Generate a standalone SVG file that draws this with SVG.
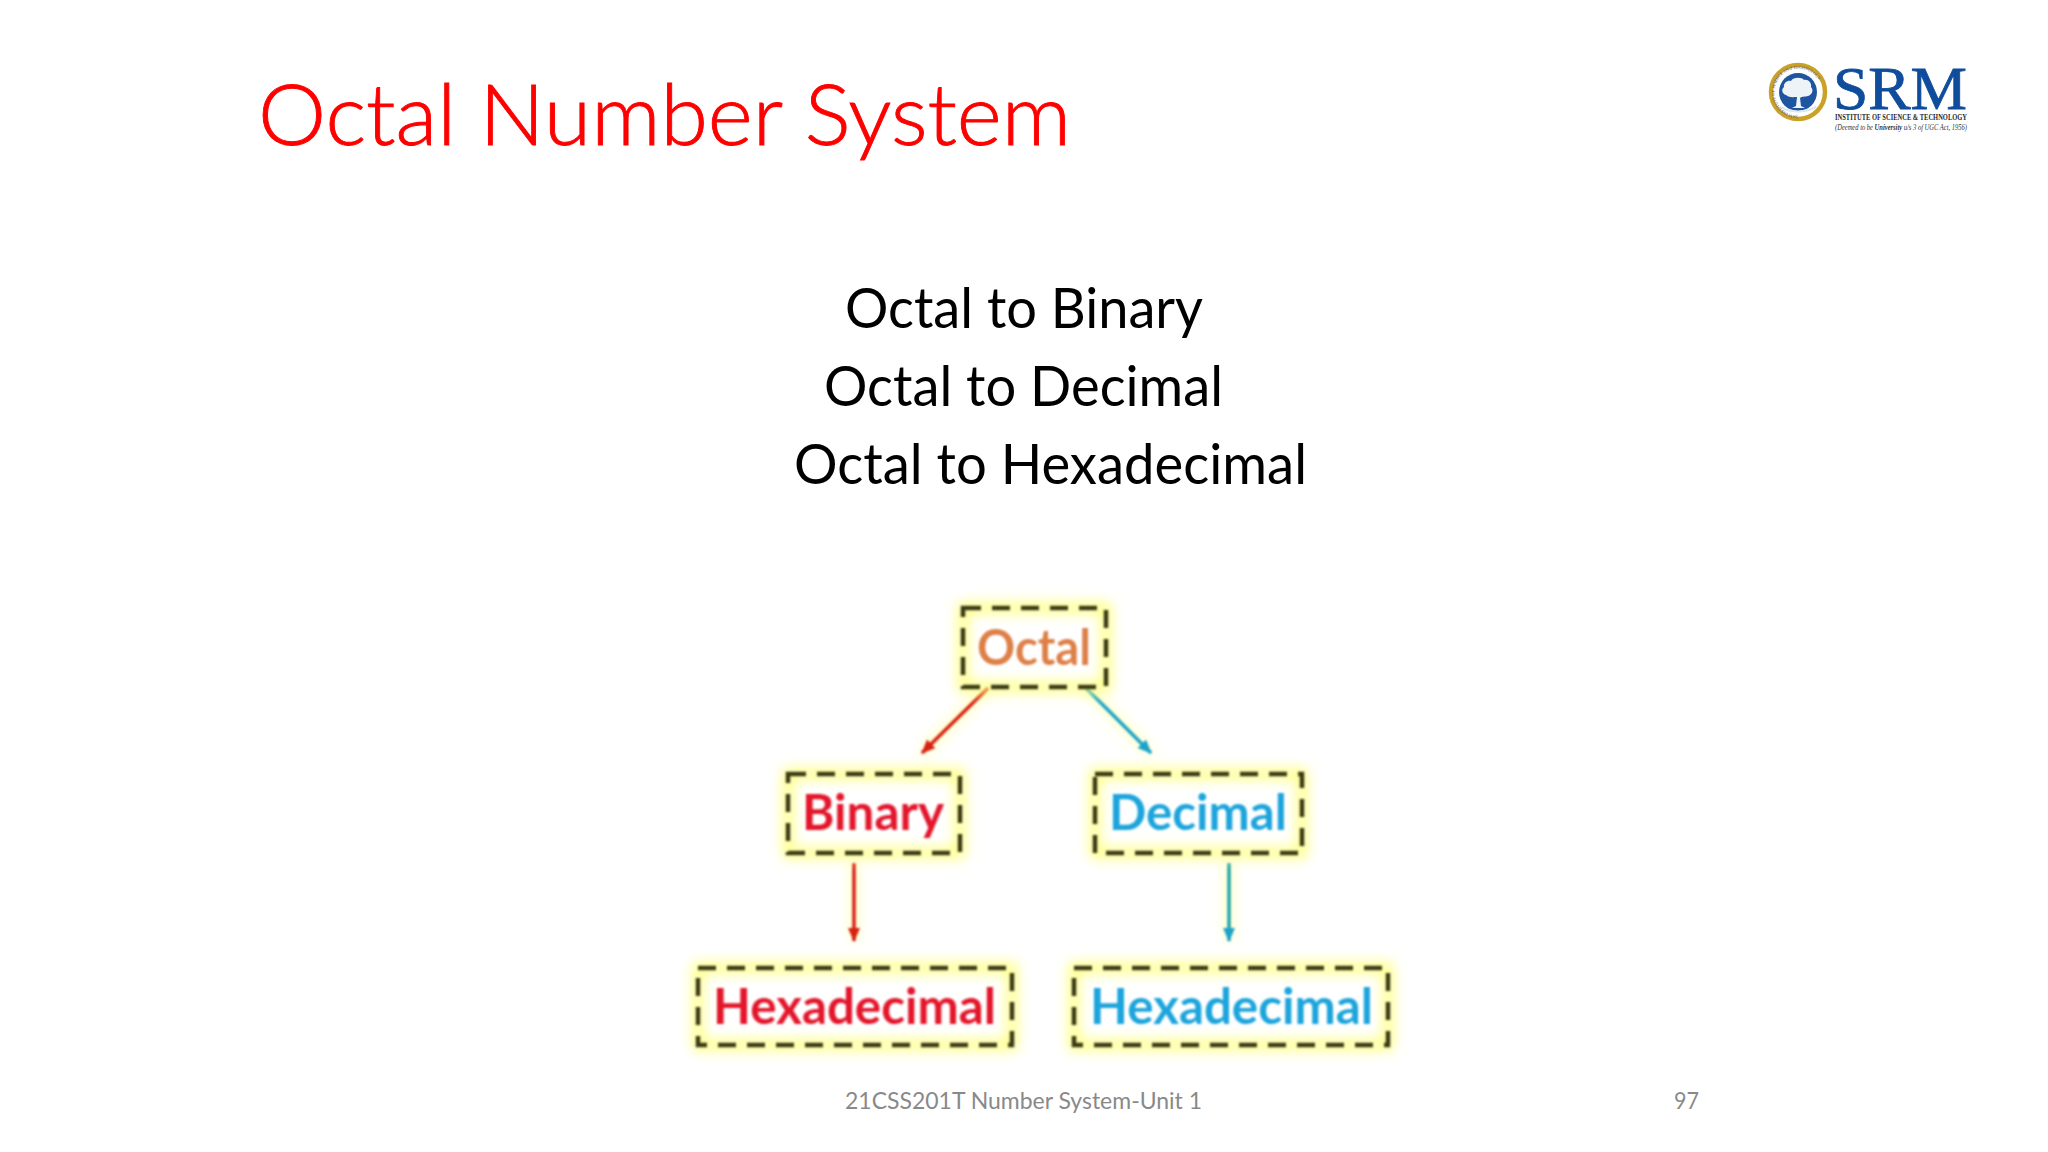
<svg xmlns="http://www.w3.org/2000/svg" xmlns:xlink="http://www.w3.org/1999/xlink" width="2048" height="1152" viewBox="0 0 2048 1152">
<style>
.title{font-family:"Lato","Noto Sans",sans-serif;font-weight:300;font-size:85px;fill:#ff0000;stroke:#ff0000;stroke-width:0.900}
.body{font-family:"Lato","Noto Sans",sans-serif;font-size:56px;fill:#000}
.foot{font-family:"Lato","Noto Sans",sans-serif;font-size:24px;fill:#898989}
.lbl{font-family:"Lato","Noto Sans",sans-serif;font-weight:700;font-size:49px}
.glow{fill:none;stroke:#ffff78;stroke-width:10}
.box{fill:none;stroke:#3a3a14;stroke-width:4.500;stroke-dasharray:18 11}
.red{fill:#e3122c}.blue{fill:#1ea4dc}.org{fill:#dd8047}
.ln{fill:none;stroke-width:3.500}
.lg{fill:none;stroke:#ffffa0;stroke-width:6}
.srm{font-family:"Liberation Serif",serif}
</style>
<defs>
<filter id="g" x="-30%" y="-30%" width="160%" height="160%"><feGaussianBlur stdDeviation="6.500"/></filter>
<filter id="s" x="-10%" y="-10%" width="120%" height="120%"><feGaussianBlur stdDeviation="1.100"/></filter>
<marker id="ar" markerUnits="userSpaceOnUse" markerWidth="16" markerHeight="14" refX="13" refY="6" orient="auto"><path d="M0 0L14 6L0 12Z" fill="#d8200a"/></marker>
<marker id="at" markerUnits="userSpaceOnUse" markerWidth="16" markerHeight="14" refX="13" refY="6" orient="auto"><path d="M0 0L14 6L0 12Z" fill="#1fa3c8"/></marker>
<path id="ring" d="M1798 115.500A23.500 23.500 0 1 1 1798.100 115.500"/>
</defs>
<rect width="2048" height="1152" fill="#fff"/>
<text id="title" class="title" x="258" y="145" textLength="813" lengthAdjust="spacingAndGlyphs">Octal Number System</text>
<g id="heading-list">
<text class="body" x="845" y="328" textLength="358" lengthAdjust="spacingAndGlyphs">Octal to Binary</text>
<text class="body" x="824" y="406" textLength="399" lengthAdjust="spacingAndGlyphs">Octal to Decimal</text>
<text class="body" x="794" y="484" textLength="513" lengthAdjust="spacingAndGlyphs">Octal to Hexadecimal</text>
</g>
<g id="connectors">
<g filter="url(#g)"><path class="lg" d="M988 688L922 753M1086 688L1151 753M854 863V940M1229 863V940"/></g>
<g filter="url(#s)">
<path class="ln" stroke="#d8200a" marker-end="url(#ar)" d="M988 688L922 753"/>
<path class="ln" stroke="#1fa3c8" marker-end="url(#at)" d="M1086 688L1151 753"/>
<path class="ln" stroke="#d8200a" marker-end="url(#ar)" d="M854 863V941"/>
<path class="ln" stroke="#1fa3a8" marker-end="url(#at)" d="M1229 863V941"/>
</g>
</g>
<g id="node-octal"><rect class="glow" filter="url(#g)" x="963" y="608" width="143" height="79"/><g filter="url(#s)"><rect class="box" x="963" y="608" width="143" height="79"/><text class="lbl org" x="977" y="665" textLength="114" lengthAdjust="spacingAndGlyphs">Octal</text></g></g>
<g id="node-binary"><rect class="glow" filter="url(#g)" x="788" y="774" width="172" height="79"/><g filter="url(#s)"><rect class="box" x="788" y="774" width="172" height="79"/><text class="lbl red" x="802" y="830" textLength="142" lengthAdjust="spacingAndGlyphs">Binary</text></g></g>
<g id="node-decimal"><rect class="glow" filter="url(#g)" x="1095" y="774" width="207" height="79"/><g filter="url(#s)"><rect class="box" x="1095" y="774" width="207" height="79"/><text class="lbl blue" x="1109" y="830" textLength="178" lengthAdjust="spacingAndGlyphs">Decimal</text></g></g>
<g id="node-hex-red"><rect class="glow" filter="url(#g)" x="698" y="968" width="314" height="77"/><g filter="url(#s)"><rect class="box" x="698" y="968" width="314" height="77"/><text class="lbl red" x="713" y="1024" textLength="283" lengthAdjust="spacingAndGlyphs">Hexadecimal</text></g></g>
<g id="node-hex-blue"><rect class="glow" filter="url(#g)" x="1074" y="968" width="314" height="77"/><g filter="url(#s)"><rect class="box" x="1074" y="968" width="314" height="77"/><text class="lbl blue" x="1090" y="1024" textLength="283" lengthAdjust="spacingAndGlyphs">Hexadecimal</text></g></g>
<g id="footer">
<text class="foot" x="845" y="1109" textLength="357" lengthAdjust="spacingAndGlyphs">21CSS201T Number System-Unit 1</text>
<text class="foot" x="1674" y="1109" textLength="25" lengthAdjust="spacingAndGlyphs">97</text>
</g>
<g id="logo">
<circle cx="1798" cy="92" r="27" fill="#fff" stroke="#c9a227" stroke-width="4.500"/>
<circle cx="1798" cy="92" r="19" fill="#1f55a0"/>
<path d="M1796 106L1797 97C1794 97 1789 98 1786 95C1782 94 1781 89 1784 87C1783 83 1788 80 1791 81C1793 77 1802 77 1804 80C1808 79 1812 83 1811 87C1814 90 1812 95 1808 96C1805 97 1802 96 1800 98L1801 106L1805 108H1792Z" fill="#eef3f8"/>
<path d="M1780 107Q1798 116 1816 107" fill="none" stroke="#dfe7ef" stroke-width="2"/>
<text class="srm" font-size="4.300" fill="#45557a"><textPath xlink:href="#ring" href="#ring">SRM INSTITUTE OF SCIENCE AND TECHNOLOGY</textPath></text>
<text class="srm" x="1833" y="109" font-size="62" fill="#0f4c9c" stroke="#0f4c9c" stroke-width="0.800" textLength="134" lengthAdjust="spacingAndGlyphs">SRM</text>
<text class="srm" x="1835" y="120" font-size="9" font-weight="700" fill="#2a2a2a" textLength="132" lengthAdjust="spacingAndGlyphs">INSTITUTE OF SCIENCE &amp; TECHNOLOGY</text>
<text class="srm" x="1835" y="129.500" font-size="7.500" font-style="italic" fill="#333" textLength="132" lengthAdjust="spacingAndGlyphs">(Deemed to be <tspan font-weight="700">University</tspan> u/s 3 of UGC Act, 1956)</text>
</g>
</svg>
